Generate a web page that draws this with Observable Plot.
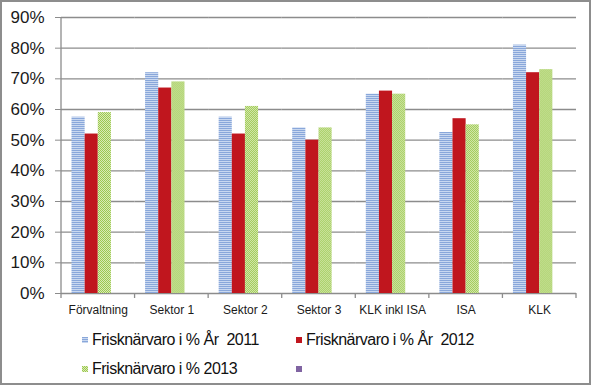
<!DOCTYPE html>
<html>
<head>
<meta charset="utf-8">
<script src="https://cdn.jsdelivr.net/npm/d3@7"></script>
<script src="https://cdn.jsdelivr.net/npm/@observablehq/plot@0.6"></script>
<style>
  html, body { margin: 0; padding: 0; background: #fff; }
  #wrap { position: relative; width: 591px; height: 385px; overflow: hidden; font-family: "Liberation Sans", Arial, sans-serif; }
  #chart { position: absolute; left: 0; top: 0; }
  #border { position: absolute; left: 0; top: 0; width: 591px; height: 385px; box-sizing: border-box; border: 2px solid #8d8d8d; pointer-events: none; }
  .leg { position: absolute; font-size: 16px; color: #111; white-space: pre; letter-spacing: -0.5px; line-height: 18px; }
  .sw { position: absolute; width: 6px; height: 6px; }
</style>
</head>
<body>
<svg width="0" height="0" style="position:absolute">
  <defs>
    <pattern id="pat2011" width="2" height="2" patternUnits="userSpaceOnUse">
      <rect width="2" height="2" fill="#c9d8f0"/>
      <rect width="2" height="1" fill="#89a7da"/>
    </pattern>
    <pattern id="pat2013" width="2" height="2" patternUnits="userSpaceOnUse">
      <rect width="2" height="2" fill="#d9ebb6"/>
      <rect x="0" y="0" width="1" height="1" fill="#9cc850"/>
      <rect x="1" y="1" width="1" height="1" fill="#9cc850"/>
    </pattern>
  </defs>
</svg>
<div id="wrap">
  <div id="chart"></div>
  <div id="legend"></div>
  <div id="border"></div>
</div>
<script>
const categories = ["Förvaltning", "Sektor 1", "Sektor 2", "Sektor 3", "KLK inkl ISA", "ISA", "KLK"];
const seriesKeys = ["s2011", "s2012", "s2013", "s4"];
const seriesLabels = ["Frisknärvaro i % År  2011", "Frisknärvaro i % År  2012", "Frisknärvaro i % 2013", ""];
const v2011 = [57.5, 72, 57.5, 54, 65, 52.5, 81];
const v2012 = [52, 67, 52, 50, 66, 57, 72];
const v2013 = [59, 69, 61, 54, 65, 55, 73];
const yTicks = [0, 0.1, 0.2, 0.3, 0.4, 0.5, 0.6, 0.7, 0.8, 0.9];
const seriesFills = ["url(#pat2011)", "#c0161e", "url(#pat2013)", "#8064a2"];

const seriesValues = [v2011, v2012, v2013];
const rows = [];
categories.forEach((c, i) => {
  seriesValues.forEach((vals, s) => {
    rows.push({cat: c, series: seriesKeys[s], value: vals[i] / 100});
  });
});

const gridColor = "#8c8c8c";

const plot = Plot.plot({
  width: 591,
  height: 322,
  marginLeft: 61,
  marginRight: 15,
  marginTop: 17,
  marginBottom: 29,
  style: {fontFamily: "'Liberation Sans', Arial, sans-serif", background: "transparent", overflow: "visible"},
  fx: {domain: categories, padding: 0, round: false, label: null},
  x: {domain: seriesKeys, paddingInner: 0, paddingOuter: 0.8, round: false, axis: null},
  y: {domain: [0, 0.9], label: null},
  color: {domain: seriesKeys, range: seriesFills},
  marks: [
    Plot.gridY(yTicks, {stroke: gridColor, strokeOpacity: 1, strokeWidth: 1.3}),
    Plot.barY(rows, {fx: "cat", x: "series", y: "value", fill: "series"}),
    Plot.axisY(yTicks, {tickFormat: d => Math.round(d * 100) + "%", tickSize: 6, tickPadding: 11, fontSize: 17, stroke: gridColor, fill: "#1a1a1a", label: null}),
    Plot.axisFx({anchor: "bottom", tickSize: 0, tickPadding: 12, fontSize: 12, fill: "#1a1a1a", label: null})
  ]
});
document.getElementById("chart").appendChild(plot);

// axis line and category boundary ticks drawn from the plot's own scales
const fx = plot.scale("fx");
const y = plot.scale("y");
const svg = d3.select(plot);
const g = svg.append("g").attr("stroke", gridColor).attr("stroke-width", 1.3);
const x0 = fx.apply(categories[0]);
const y0 = y.apply(0), y1 = y.apply(0.9);
g.append("line").attr("x1", x0).attr("x2", x0).attr("y1", y0 + 5).attr("y2", y1);
const bounds = categories.map(c => fx.apply(c) + fx.bandwidth);
bounds.forEach(b => {
  g.append("line").attr("x1", b).attr("x2", b).attr("y1", y0).attr("y2", y0 + 5);
});

// legend
const legend = document.getElementById("legend");
const legPos = [[82, 334], [296, 334], [82, 363], [296, 363]];
seriesKeys.forEach((k, i) => {
  const [lx, ly] = legPos[i];
  const sw = document.createElementNS("http://www.w3.org/2000/svg", "svg");
  sw.setAttribute("width", 6); sw.setAttribute("height", 6);
  sw.setAttribute("class", "sw");
  sw.style.left = lx + "px"; sw.style.top = (ly + 3) + "px";
  const r = document.createElementNS("http://www.w3.org/2000/svg", "rect");
  r.setAttribute("width", 6); r.setAttribute("height", 6); r.setAttribute("fill", seriesFills[i]);
  sw.appendChild(r);
  legend.appendChild(sw);
  if (seriesLabels[i]) {
    const t = document.createElement("div");
    t.className = "leg";
    t.style.left = (lx + 10) + "px"; t.style.top = (ly - 3) + "px";
    t.textContent = seriesLabels[i];
    legend.appendChild(t);
  }
});
</script>
</body>
</html>
